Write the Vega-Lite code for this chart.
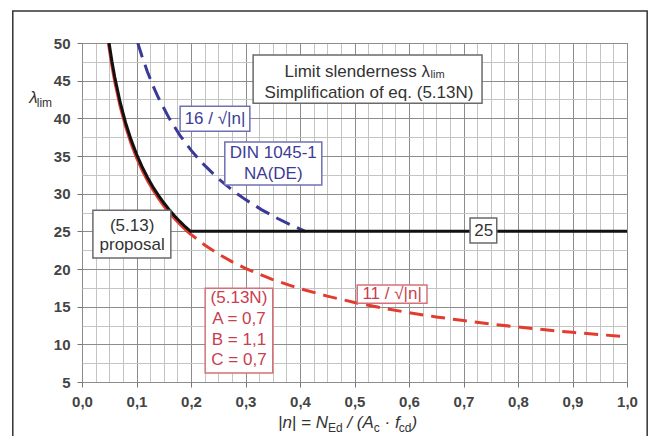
{
  "$schema": "https://vega.github.io/schema/vega-lite/v6.json",
  "width": 545,
  "height": 339,
  "autosize": {"type": "none"},
  "padding": {"left": 82, "top": 43, "right": 26, "bottom": 54},
  "background": "white",
  "config": {"font": "Liberation Sans", "view": {"stroke": "#8a8a8a", "strokeWidth": 1}},
  "datasets": {
    "curves": [
      {"s": "black", "n": 0.0497, "lam": 50},
      {"s": "black", "n": 0.055, "lam": 47.54},
      {"s": "black", "n": 0.06, "lam": 45.52},
      {"s": "black", "n": 0.07, "lam": 42.14},
      {"s": "black", "n": 0.08, "lam": 39.42},
      {"s": "black", "n": 0.09, "lam": 37.17},
      {"s": "black", "n": 0.10, "lam": 35.26},
      {"s": "black", "n": 0.11, "lam": 33.62},
      {"s": "black", "n": 0.12, "lam": 32.19},
      {"s": "black", "n": 0.13, "lam": 30.92},
      {"s": "black", "n": 0.14, "lam": 29.80},
      {"s": "black", "n": 0.15, "lam": 28.79},
      {"s": "black", "n": 0.16, "lam": 27.88},
      {"s": "black", "n": 0.17, "lam": 27.04},
      {"s": "black", "n": 0.18, "lam": 26.28},
      {"s": "black", "n": 0.19, "lam": 25.58},
      {"s": "black", "n": 0.199, "lam": 25.0},
      {"s": "black", "n": 1.0, "lam": 25.0},
      {"s": "redsolid", "n": 0.0484, "lam": 50},
      {"s": "redsolid", "n": 0.055, "lam": 46.90},
      {"s": "redsolid", "n": 0.06, "lam": 44.91},
      {"s": "redsolid", "n": 0.07, "lam": 41.58},
      {"s": "redsolid", "n": 0.08, "lam": 38.89},
      {"s": "redsolid", "n": 0.09, "lam": 36.67},
      {"s": "redsolid", "n": 0.10, "lam": 34.79},
      {"s": "redsolid", "n": 0.11, "lam": 33.17},
      {"s": "redsolid", "n": 0.12, "lam": 31.75},
      {"s": "redsolid", "n": 0.13, "lam": 30.51},
      {"s": "redsolid", "n": 0.14, "lam": 29.40},
      {"s": "redsolid", "n": 0.15, "lam": 28.40},
      {"s": "redsolid", "n": 0.16, "lam": 27.50},
      {"s": "redsolid", "n": 0.17, "lam": 26.68},
      {"s": "redsolid", "n": 0.18, "lam": 25.93},
      {"s": "redsolid", "n": 0.19, "lam": 25.24},
      {"s": "redsolid", "n": 0.20, "lam": 24.60},
      {"s": "reddash", "n": 0.19, "lam": 25.24},
      {"s": "reddash", "n": 0.20, "lam": 24.60},
      {"s": "reddash", "n": 0.225, "lam": 23.19},
      {"s": "reddash", "n": 0.25, "lam": 22.0},
      {"s": "reddash", "n": 0.275, "lam": 20.98},
      {"s": "reddash", "n": 0.30, "lam": 20.08},
      {"s": "reddash", "n": 0.35, "lam": 18.59},
      {"s": "reddash", "n": 0.40, "lam": 17.39},
      {"s": "reddash", "n": 0.45, "lam": 16.40},
      {"s": "reddash", "n": 0.50, "lam": 15.56},
      {"s": "reddash", "n": 0.55, "lam": 14.83},
      {"s": "reddash", "n": 0.60, "lam": 14.20},
      {"s": "reddash", "n": 0.65, "lam": 13.64},
      {"s": "reddash", "n": 0.70, "lam": 13.15},
      {"s": "reddash", "n": 0.75, "lam": 12.70},
      {"s": "reddash", "n": 0.80, "lam": 12.30},
      {"s": "reddash", "n": 0.85, "lam": 11.93},
      {"s": "reddash", "n": 0.90, "lam": 11.59},
      {"s": "reddash", "n": 0.95, "lam": 11.29},
      {"s": "reddash", "n": 1.0, "lam": 11.0},
      {"s": "blue", "n": 0.1024, "lam": 50},
      {"s": "blue", "n": 0.11, "lam": 48.24},
      {"s": "blue", "n": 0.12, "lam": 46.19},
      {"s": "blue", "n": 0.13, "lam": 44.38},
      {"s": "blue", "n": 0.14, "lam": 42.76},
      {"s": "blue", "n": 0.16, "lam": 40.0},
      {"s": "blue", "n": 0.18, "lam": 37.71},
      {"s": "blue", "n": 0.20, "lam": 35.78},
      {"s": "blue", "n": 0.22, "lam": 34.11},
      {"s": "blue", "n": 0.25, "lam": 32.0},
      {"s": "blue", "n": 0.28, "lam": 30.24},
      {"s": "blue", "n": 0.30, "lam": 29.21},
      {"s": "blue", "n": 0.33, "lam": 27.85},
      {"s": "blue", "n": 0.36, "lam": 26.67},
      {"s": "blue", "n": 0.38, "lam": 25.96},
      {"s": "blue", "n": 0.4096, "lam": 25.0}
    ],
    "boxes": [
      {"g": "black", "n": 0.314, "n2": 0.734, "lam": 48.4, "lam2": 42.0},
      {"g": "blue", "n": 0.18, "n2": 0.308, "lam": 41.6, "lam2": 38.3},
      {"g": "blue", "n": 0.262, "n2": 0.44, "lam": 36.85, "lam2": 31.14},
      {"g": "black", "n": 0.02, "n2": 0.163, "lam": 27.8, "lam2": 21.45},
      {"g": "black", "n": 0.712, "n2": 0.761, "lam": 26.76, "lam2": 23.44},
      {"g": "red", "n": 0.226, "n2": 0.35, "lam": 17.46, "lam2": 6.18},
      {"g": "red", "n": 0.505, "n2": 0.633, "lam": 17.86, "lam2": 15.47}
    ],
    "labels": [
      {"g": "black", "t": "Simplification of eq. (5.13N)", "n": 0.5266, "lam": 43.4},
      {"g": "blue", "t": "16 / √|n|", "n": 0.244, "lam": 39.95},
      {"g": "blue", "t": "DIN 1045-1", "n": 0.351, "lam": 35.45},
      {"g": "blue", "t": "NA(DE)", "n": 0.351, "lam": 32.65},
      {"g": "black", "t": "(5.13)", "n": 0.092, "lam": 25.75},
      {"g": "black", "t": "proposal", "n": 0.092, "lam": 23.15},
      {"g": "black", "t": "25", "n": 0.737, "lam": 25.1},
      {"g": "red", "t": "(5.13N)", "n": 0.288, "lam": 16.14},
      {"g": "red", "t": "A = 0,7", "n": 0.288, "lam": 13.35},
      {"g": "red", "t": "B = 1,1", "n": 0.288, "lam": 10.56},
      {"g": "red", "t": "C = 0,7", "n": 0.288, "lam": 7.9},
      {"g": "red", "t": "11 / √|n|", "n": 0.569, "lam": 16.7}
    ],
    "rightLabels": [
      {"t": "Limit slenderness λ", "n": 0.6385, "lam": 46.2}
    ],
    "titleMain": [
      {"t": "|n| = N", "n": 0.3596, "lam": -1.13},
      {"t": "/ (A", "n": 0.4869, "lam": -1.13},
      {"t": "· f", "n": 0.5551, "lam": -1.13},
      {"t": ")", "n": 0.6044, "lam": -1.13},
      {"t": "λ", "n": -0.097, "lam": 42.1}
    ],
    "titleSub": [
      {"t": "Ed", "n": 0.4512, "lam": -1.66},
      {"t": "c", "n": 0.5354, "lam": -1.66},
      {"t": "cd", "n": 0.5811, "lam": -1.66},
      {"t": "lim", "n": -0.083, "lam": 41.55}
    ],
    "boxSub": [
      {"t": "lim", "n": 0.6395, "lam": 45.3}
    ]
  },
  "layer": [
    {
      "data": {"values": [{"n": -0.127, "n2": 1.037, "lam": 54.25, "lam2": -3}]},
      "mark": {"type": "rect", "fill": "white", "fillOpacity": 0, "stroke": "#333333", "strokeWidth": 1.5, "clip": false},
      "encoding": {
        "x": {
          "field": "n", "type": "quantitative",
          "scale": {"domain": [0, 1], "nice": false, "zero": false},
          "axis": {
            "values": [0, 0.025, 0.05, 0.075, 0.1, 0.125, 0.15, 0.175, 0.2, 0.225, 0.25, 0.275, 0.3, 0.325, 0.35, 0.375, 0.4, 0.425, 0.45, 0.475, 0.5, 0.525, 0.55, 0.575, 0.6, 0.625, 0.65, 0.675, 0.7, 0.725, 0.75, 0.775, 0.8, 0.825, 0.85, 0.875, 0.9, 0.925, 0.95, 0.975, 1],
            "tickCount": 200,
            "grid": true,
            "gridColor": {"condition": {"test": "abs(datum.value*10 - round(datum.value*10)) < 0.001", "value": "#8c8c8c"}, "value": "#c4c4c4"},
            "gridWidth": 1,
            "domain": false,
            "ticks": true,
            "tickColor": {"condition": {"test": "abs(datum.value*10 - round(datum.value*10)) < 0.001", "value": "#777777"}, "value": "transparent"},
            "tickSize": 5,
            "labelExpr": "abs(datum.value*10 - round(datum.value*10)) < 0.001 ? replace(format(datum.value, '.1f'), '.', ',') : ''",
            "labelFont": "Liberation Sans",
            "labelFontSize": 15,
            "labelFontWeight": "bold",
            "labelColor": "#444444",
            "labelPadding": 7,
            "labelOverlap": false,
            "labelFlush": false,
            "title": null
          }
        },
        "x2": {"field": "n2"},
        "y": {
          "field": "lam", "type": "quantitative",
          "scale": {"domain": [5, 50], "nice": false, "zero": false},
          "axis": {
            "values": [5, 7.5, 10, 12.5, 15, 17.5, 20, 22.5, 25, 27.5, 30, 32.5, 35, 37.5, 40, 42.5, 45, 47.5, 50],
            "tickCount": 200,
            "grid": true,
            "gridColor": {"condition": {"test": "datum.value % 5 === 0", "value": "#8c8c8c"}, "value": "#c4c4c4"},
            "gridWidth": 1,
            "domain": false,
            "ticks": true,
            "tickColor": {"condition": {"test": "datum.value % 5 === 0", "value": "#777777"}, "value": "transparent"},
            "tickSize": 5,
            "labelExpr": "datum.value % 5 === 0 ? format(datum.value, 'd') : ''",
            "labelFont": "Liberation Sans",
            "labelFontSize": 15,
            "labelFontWeight": "bold",
            "labelColor": "#444444",
            "labelPadding": 7,
            "labelOverlap": false,
            "labelFlush": false,
            "title": null
          }
        },
        "y2": {"field": "lam2"}
      }
    },
    {
      "data": {"name": "curves"},
      "transform": [{"filter": "datum.s === 'redsolid'"}],
      "mark": {"type": "line", "color": "#e33b2e", "strokeWidth": 3, "clip": true},
      "encoding": {"x": {"field": "n", "type": "quantitative"}, "y": {"field": "lam", "type": "quantitative"}}
    },
    {
      "data": {"name": "curves"},
      "transform": [{"filter": "datum.s === 'reddash'"}],
      "mark": {"type": "line", "color": "#e33b2e", "strokeWidth": 3, "strokeDash": [14, 8], "clip": true},
      "encoding": {"x": {"field": "n", "type": "quantitative"}, "y": {"field": "lam", "type": "quantitative"}}
    },
    {
      "data": {"name": "curves"},
      "transform": [{"filter": "datum.s === 'blue'"}],
      "mark": {"type": "line", "color": "#3a3a99", "strokeWidth": 3, "strokeDash": [15, 8], "clip": true},
      "encoding": {"x": {"field": "n", "type": "quantitative"}, "y": {"field": "lam", "type": "quantitative"}}
    },
    {
      "data": {"name": "curves"},
      "transform": [{"filter": "datum.s === 'black'"}],
      "mark": {"type": "line", "color": "#111111", "strokeWidth": 3, "clip": true},
      "encoding": {"x": {"field": "n", "type": "quantitative"}, "y": {"field": "lam", "type": "quantitative"}}
    },
    {
      "data": {"name": "boxes"},
      "mark": {"type": "rect", "fill": "white", "strokeWidth": 1.5},
      "encoding": {
        "x": {"field": "n", "type": "quantitative"},
        "x2": {"field": "n2"},
        "y": {"field": "lam", "type": "quantitative"},
        "y2": {"field": "lam2"},
        "stroke": {"field": "g", "type": "nominal", "scale": {"domain": ["black", "blue", "red"], "range": ["#6a6a6a", "#7070b4", "#d8707a"]}, "legend": null}
      }
    },
    {
      "data": {"name": "labels"},
      "mark": {"type": "text", "fontSize": 17, "align": "center", "baseline": "middle", "font": "Liberation Sans"},
      "encoding": {
        "x": {"field": "n", "type": "quantitative"},
        "y": {"field": "lam", "type": "quantitative"},
        "text": {"field": "t"},
        "color": {"field": "g", "type": "nominal", "scale": {"domain": ["black", "blue", "red"], "range": ["#333333", "#3c3c96", "#c8404f"]}, "legend": null}
      }
    },
    {
      "data": {"name": "rightLabels"},
      "mark": {"type": "text", "fontSize": 17, "align": "right", "baseline": "middle", "font": "Liberation Sans", "color": "#333333"},
      "encoding": {
        "x": {"field": "n", "type": "quantitative"},
        "y": {"field": "lam", "type": "quantitative"},
        "text": {"field": "t"}
      }
    },
    {
      "data": {"name": "boxSub"},
      "mark": {"type": "text", "fontSize": 11, "align": "left", "baseline": "alphabetic", "color": "#333333"},
      "encoding": {
        "x": {"field": "n", "type": "quantitative"},
        "y": {"field": "lam", "type": "quantitative"},
        "text": {"field": "t"}
      }
    },
    {
      "data": {"name": "titleMain"},
      "mark": {"type": "text", "fontSize": 17, "fontStyle": "italic", "align": "left", "baseline": "alphabetic", "color": "#333333", "clip": false},
      "encoding": {
        "x": {"field": "n", "type": "quantitative"},
        "y": {"field": "lam", "type": "quantitative"},
        "text": {"field": "t"}
      }
    },
    {
      "data": {"name": "titleSub"},
      "mark": {"type": "text", "fontSize": 12, "align": "left", "baseline": "alphabetic", "color": "#333333", "clip": false},
      "encoding": {
        "x": {"field": "n", "type": "quantitative"},
        "y": {"field": "lam", "type": "quantitative"},
        "text": {"field": "t"}
      }
    }
  ]
}
